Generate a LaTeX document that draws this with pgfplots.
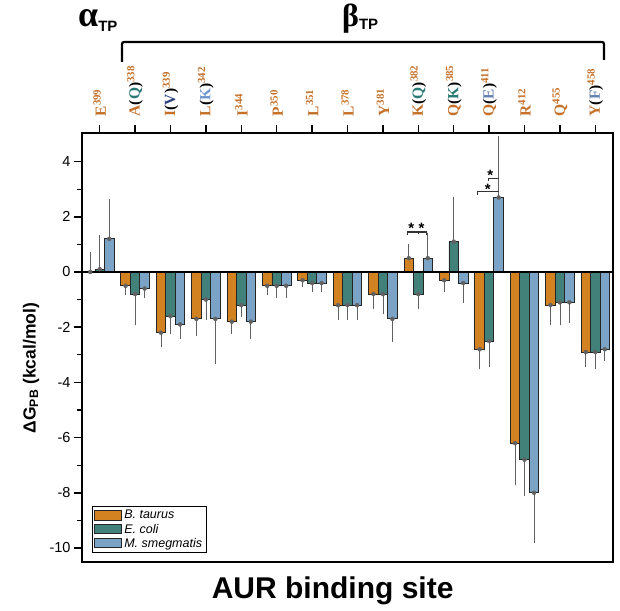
\documentclass[border=0pt]{standalone}
\usepackage{pgfplots}
\pgfplotsset{compat=1.18}
\usepackage{pgfplotstable}
\usepackage{fontspec}
\setmainfont{Liberation Sans}
\newfontfamily\serf{Liberation Serif}
\definecolor{cOr}{RGB}{210,130,32}
\definecolor{cTe}{RGB}{66,128,122}
\definecolor{cBl}{RGB}{122,163,198}
\definecolor{labOr}{RGB}{196,112,40}
\definecolor{labTe}{RGB}{40,120,115}
\definecolor{labNv}{RGB}{45,65,125}
\definecolor{labLb}{RGB}{110,150,205}
\definecolor{labBl}{RGB}{100,130,175}
\newcommand{\sps}[1]{\textsuperscript{#1}}
\newcommand{\prn}[1]{{\color{black}(}{#1}{\color{black})}}

% bar values
\pgfplotstableread{
x  bt    ec    ms
0  0.0   0.1   1.2
1  -0.5  -0.8  -0.6
2  -2.2  -1.6  -1.9
3  -1.7  -1.0  -1.7
4  -1.8  -1.2  -1.8
5  -0.5  -0.5  -0.5
6  -0.3  -0.4  -0.4
7  -1.2  -1.2  -1.2
8  -0.8  -0.8  -1.7
9  0.5   -0.8  0.5
10 -0.3  1.1   -0.4
11 -2.8  -2.5  2.7
12 -6.2  -6.8  -8.0
13 -1.2  -1.1  -1.1
14 -2.9  -2.9  -2.8
}\bars
% error bars (one-sided, away from zero): upward ones and downward ones
\pgfplotstableread{
x v e
0 0.0 0.6
9 0.5 0.4
}\btUp
\pgfplotstableread{
x  v     e
1  -0.5  0.2
2  -2.2  0.4
3  -1.7  0.5
4  -1.8  0.3
5  -0.5  0.2
6  -0.3  0.1
7  -1.2  0.4
8  -0.8  0.4
10 -0.3  0.3
11 -2.8  0.6
12 -6.2  1.4
13 -1.2  0.6
14 -2.9  0.4
}\btDn
\pgfplotstableread{
x  v    e
0  0.1  1.1
10 1.1  1.5
}\ecUp
\pgfplotstableread{
x  v     e
1  -0.8  1.0
2  -1.6  0.5
3  -1.0  0.6
4  -1.2  0.3
5  -0.5  0.3
6  -0.4  0.2
7  -1.2  0.4
8  -0.8  0.6
9  -0.8  0.4
11 -2.5  0.8
12 -6.8  1.2
13 -1.1  0.7
14 -2.9  0.5
}\ecDn
\pgfplotstableread{
x  v    e
0  1.2  1.3
9  0.5  0.8
11 2.7  2.1
}\msUp
\pgfplotstableread{
x  v     e
1  -0.6  0.2
2  -1.9  0.4
3  -1.7  1.5
4  -1.8  0.5
5  -0.5  0.3
6  -0.4  0.2
7  -1.2  0.4
8  -1.7  0.7
10 -0.4  0.6
12 -8.0  1.7
13 -1.1  0.6
14 -2.8  0.3
}\msDn

\begin{document}
\begin{tikzpicture}
\useasboundingbox (0,0) rectangle (620pt,610pt);
\begin{axis}[
  at={(82pt,48pt)}, anchor=south west,
  scale only axis, width=531pt, height=429pt,
  xmin=-0.5, xmax=14.5, ymin=-10.507, ymax=5.036,
  clip=false,
  axis line style={line width=2pt},
  xtick={0,...,14},
  xtick pos=right, xticklabel pos=right,
  xticklabels={
    {E\sps{399}},
    {A\prn{\color{labTe}Q}\sps{338}},
    {I\prn{\color{labNv}V}\sps{339}},
    {L\prn{\color{labLb}K}\sps{342}},
    {I\sps{344}},
    {P\sps{350}},
    {L\sps{351}},
    {L\sps{378}},
    {Y\sps{381}},
    {K\prn{\color{labTe}Q}\sps{382}},
    {Q\prn{\color{labTe}K}\sps{385}},
    {Q\prn{\color{labBl}E}\sps{411}},
    {R\sps{412}},
    {Q\sps{455}},
    {Y\prn{\color{labBl}F}\sps{458}}},
  xticklabel style={rotate=90, anchor=west, inner sep=8.5pt, text=labOr,
    font=\serf\bfseries\fontsize{15.5}{15.5}\selectfont},
  ytick={-10,-8,...,4},
  minor ytick={-9,-7,...,3},
  ytick pos=left,
  yticklabel style={font=\fontsize{14.5}{16}\selectfont},
  /pgf/number format/assume math mode=true,
  tick align=outside,
  major tick length=8pt, minor tick length=5pt,
  every tick/.style={black, line width=1.5pt},
  minor tick style={line width=1.2pt},
  ylabel={\textbf{ΔG\textsubscript{PB} (kcal/mol)}},
  ylabel style={at={(axis description cs:-0.096,0.452)}, anchor=center,
    font=\fontsize{17.5}{19}\selectfont},
  xlabel={\textbf{AUR binding site}},
  xlabel style={at={(axis description cs:0.472,0)}, anchor=base, yshift=-36pt,
    font=\fontsize{30}{32}\selectfont},
  legend cell align=left,
  legend style={at={(0.019,0.021)}, anchor=south west, draw=black,
    line width=0.8pt, font=\itshape\fontsize{12.5}{14}\selectfont,
    row sep=-0.5pt, inner sep=2pt},
  mylegend/.style={legend image code/.code={
    \draw[##1, line width=0.8pt] (0pt,-4.5pt) rectangle (27pt,5pt);}},
  errup/.style={only marks, mark=none, forget plot, black!62,
    error bars/.cd, y dir=plus, y explicit,
    error bar style={black!62, line width=0.7pt},
    error mark=-,
    error mark options={black!62, line width=0.7pt, mark size=3.6pt}},
  errdn/.style={only marks, mark=none, forget plot, black!62,
    error bars/.cd, y dir=minus, y explicit,
    error bar style={black!62, line width=0.7pt},
    error mark=-,
    error mark options={black!62, line width=0.7pt, mark size=3.6pt}},
  barsty/.style={ybar, bar width=9.5pt, draw=black!85, line width=0.9pt},
]
% error bars first, so the bars cover their inner part
\addplot[xshift=-9.5pt, errup] table[x=x, y=v, y error=e]{\btUp};
\addplot[xshift=-9.5pt, errdn] table[x=x, y=v, y error=e]{\btDn};
\addplot[errup] table[x=x, y=v, y error=e]{\ecUp};
\addplot[errdn] table[x=x, y=v, y error=e]{\ecDn};
\addplot[xshift=9.5pt, errup] table[x=x, y=v, y error=e]{\msUp};
\addplot[xshift=9.5pt, errdn] table[x=x, y=v, y error=e]{\msDn};
% bars
\addplot[barsty, bar shift=-9.5pt, fill=cOr, forget plot] table[x=x, y=bt]{\bars};
\addplot[barsty, bar shift=0pt, fill=cTe, forget plot] table[x=x, y=ec]{\bars};
\addplot[barsty, bar shift=9.5pt, fill=cBl, forget plot] table[x=x, y=ms]{\bars};
\addlegendimage{mylegend, fill=cOr, draw=black!85}
\addlegendentry{B. taurus}
\addlegendimage{mylegend, fill=cTe, draw=black!85}
\addlegendentry{E. coli}
\addlegendimage{mylegend, fill=cBl, draw=black!85}
\addlegendentry{M. smegmatis}
% zero line
\draw[black, line width=1.5pt] (axis cs:-0.5,0) -- (axis cs:14.5,0);
% significance brackets
\draw[black!80, line width=1.2pt] (axis cs:8.70,1.33) -- (axis cs:8.70,1.45) -- (axis cs:9.23,1.45) -- (axis cs:9.23,1.33);
\draw[black!80, line width=1.2pt] (axis cs:9.0,1.45) -- (axis cs:9.0,1.36);
\draw[black!80, line width=1.2pt] (axis cs:10.67,2.79) -- (axis cs:10.67,2.91) -- (axis cs:11.27,2.91);
\draw[black!80, line width=1.2pt] (axis cs:10.98,3.31) -- (axis cs:10.98,3.39) -- (axis cs:11.27,3.39);
\node[anchor=base, inner sep=0, yshift=-8.5pt, font=\bfseries\fontsize{15}{15}\selectfont] at (axis cs:8.80,1.70) {*};
\node[anchor=base, inner sep=0, yshift=-8.5pt, font=\bfseries\fontsize{15}{15}\selectfont] at (axis cs:9.09,1.70) {*};
\node[anchor=base, inner sep=0, yshift=-8.5pt, font=\bfseries\fontsize{15}{15}\selectfont] at (axis cs:10.96,3.10) {*};
\node[anchor=base, inner sep=0, yshift=-8.5pt, font=\bfseries\fontsize{15}{15}\selectfont] at (axis cs:11.03,3.63) {*};
\end{axis}
% domain bracket and labels
\draw[black, line width=2.2pt, rounded corners=2pt] (122pt,548pt) -- (122pt,568pt) -- (604pt,568pt) -- (604pt,550pt);
\node[anchor=base west, inner sep=0] at (78pt,583pt)
  {{\serf\bfseries\fontsize{36}{36}\selectfont α}\raisebox{-5pt}{\bfseries\fontsize{15}{15}\selectfont TP}};
\node[anchor=base west, inner sep=0] at (342pt,583.5pt)
  {{\serf\bfseries\fontsize{32}{32}\selectfont β}\raisebox{-3.5pt}{\bfseries\fontsize{15}{15}\selectfont TP}};
\end{tikzpicture}
\end{document}
